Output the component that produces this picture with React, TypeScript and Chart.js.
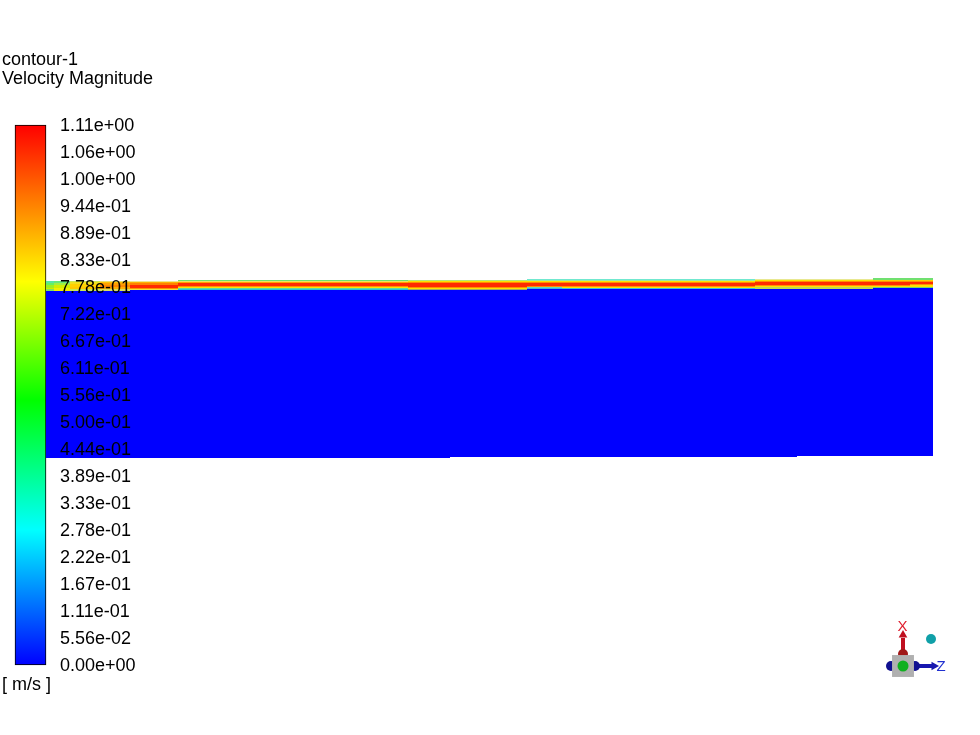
import React, { useEffect, useRef } from "react";
import { Chart, registerables } from "chart.js";

Chart.register(...registerables);

const titleLines = ["contour-1", "Velocity Magnitude"];
const tickLabels = [
  "0.00e+00", "5.56e-02", "1.11e-01", "1.67e-01", "2.22e-01", "2.78e-01", "3.33e-01", "3.89e-01",
  "4.44e-01", "5.00e-01", "5.56e-01", "6.11e-01", "6.67e-01", "7.22e-01", "7.78e-01", "8.33e-01",
  "8.89e-01", "9.44e-01", "1.00e+00", "1.06e+00", "1.11e+00",
];
const tickStep = 1.11 / 20;
const tickValues = tickLabels.map((_, i) => i * tickStep);
const rampStops = [0, 0.25, 0.49, 0.71, 1];
const rampColors = ["#0000ff", "#00ffff", "#00ff00", "#ffff00", "#ff0000"];

// main body of the domain: x edges, then top/bottom per column
const bodyEdges = [46, 450, 527, 797, 873, 933];
const bodyTops = [290, 290, 289, 289, 288];
const bodyBottoms = [458, 457, 457, 456, 456];
const bodyColor = "#0000ff";

// thin boundary layer above the body
const stripEdges = [46, 54, 70, 100, 130, 178, 408, 527, 562, 755, 873, 910, 933];
const stripBottoms = [291, 291, 291, 291, 290, 290, 290, 289, 289, 289, 288, 288];
const stripTops = [
  [281, 283, 285, 288, 289],
  [281, 283, 285, 288],
  [281, 282, 284, 287, 289],
  [281, 282, 283, 285, 287, 289],
  [281, 282, 283, 285, 288, 289],
  [280, 281, 282, 283, 286, 287, 288, 289],
  [280, 281, 282, 283, 287, 288, 289],
  [279, 280, 281, 282, 283, 286, 287, 288],
  [279, 280, 281, 282, 283, 286, 287, 288],
  [279, 280, 281, 282, 285, 286, 287],
  [278, 280, 281, 282, 285, 286, 287],
  [278, 280, 281, 282, 284, 285, 287],
];
const stripColors = [
  ["#55e8a0", "#66f060", "#9bf020", "#c8f000", "#80e060"],
  ["#66e878", "#a0f040", "#d0f000", "#f0f000"],
  ["#c8e858", "#f0e020", "#ffd000", "#ffc800", "#c8e858"],
  ["#e8e070", "#ffc000", "#ffa000", "#ff8800", "#ffb000", "#d8e060"],
  ["#f0e890", "#ffb000", "#ff8000", "#ff2a00", "#ff9000", "#f0e040"],
  ["#70e070", "#f0e060", "#ffa000", "#ff2a00", "#ff9000", "#ffe000", "#60d8a0", "#30c0d0"],
  ["#b8e878", "#ffe000", "#ff9000", "#ff2a00", "#ff9000", "#ffe000", "#a8a860"],
  ["#70e8d0", "#a0e8a0", "#ffe000", "#ff9000", "#ff2a00", "#ff9000", "#60d8c0", "#40b0e0"],
  ["#70e8d0", "#a0e8a0", "#ffe000", "#ff9000", "#ff2a00", "#ff9000", "#ffe000", "#40c0d0"],
  ["#e8e890", "#ffe000", "#ff9000", "#ff2a00", "#ff9000", "#ffe000", "#c0d850"],
  ["#70e070", "#ffd000", "#ff9000", "#ff2a00", "#ff9000", "#ffe000", "#70d870"],
  ["#70e070", "#ffd000", "#ff9000", "#ff2a00", "#ff9000", "#ffe000", "#70d870"],
];

// orientation triad
const triadAxisX = [{ x: 903, y: 655 }, { x: 903, y: 638 }];
const triadAxisZ = [{ x: 914, y: 666 }, { x: 932, y: 666 }];
const triadPoints = [
  { x: 931, y: 639, r: 5, style: "circle", color: "#10a0a8", rot: 0 },
  { x: 903, y: 635, r: 5, style: "triangle", color: "#c01020", rot: 0 },
  { x: 934, y: 666, r: 5, style: "triangle", color: "#1818b0", rot: 90 },
  { x: 903, y: 654, r: 5, style: "circle", color: "#a01818", rot: 0 },
  { x: 903, y: 678, r: 5, style: "circle", color: "#a01818", rot: 0 },
  { x: 891, y: 666, r: 5, style: "circle", color: "#101090", rot: 0 },
  { x: 915, y: 666, r: 5, style: "circle", color: "#101090", rot: 0 },
  { x: 903, y: 666, r: 15.5, style: "rect", color: "#b0b0b0", rot: 0 },
  { x: 903, y: 666, r: 5.5, style: "circle", color: "#10b020", rot: 0 },
];
const freeLabels = [
  { x: 902.5, y: 627, text: "X", color: "#e02030", size: 15, align: "center" },
  { x: 941, y: 667, text: "Z", color: "#2030d0", size: 15, align: "center" },
  { x: 2, y: 685, text: "[ m/s ]", color: "#000000", size: 18, align: "left" },
];

const FONT = "'Liberation Sans', Arial, sans-serif";
const TICK_TEXT_X = 60;

function rect(x0: number, x1: number, top: number, bottom: number, color: string) {
  return {
    type: "line",
    data: [{ x: x0, y: top }, { x: x1, y: top }],
    fill: { value: bottom },
    backgroundColor: color,
    borderWidth: 0,
    pointRadius: 0,
    xAxisID: "x",
    yAxisID: "y",
  };
}

function buildDatasets() {
  const paint: any[] = [];
  paint.push({
    type: "bar",
    data: [{ x: 30.5, y: [0, 1.11] }],
    barThickness: 31,
    borderWidth: 1,
    borderColor: "#000000",
    borderSkipped: false,
    clip: false,
    backgroundColor: (ctx: any) => {
      const { chart } = ctx;
      const s = chart.scales.y1;
      if (!chart.chartArea || !s) return rampColors[0];
      const y0 = s.getPixelForValue(0);
      const y1 = s.getPixelForValue(1.11);
      if (!Number.isFinite(y0) || !Number.isFinite(y1)) return rampColors[0];
      const g = chart.ctx.createLinearGradient(0, y0, 0, y1);
      rampStops.forEach((p, i) => g.addColorStop(p, rampColors[i]));
      return g;
    },
    xAxisID: "x",
    yAxisID: "y1",
  });
  bodyTops.forEach((t, i) => {
    paint.push(rect(bodyEdges[i], bodyEdges[i + 1], t, bodyBottoms[i], bodyColor));
  });
  stripTops.forEach((tops, i) => {
    tops.forEach((t, j) => {
      const bottom = j + 1 < tops.length ? tops[j + 1] : stripBottoms[i];
      paint.push(rect(stripEdges[i], stripEdges[i + 1], t, bottom, stripColors[i][j]));
    });
  });
  paint.push({
    type: "line", data: triadAxisX, borderColor: "#c01020", borderWidth: 4, pointRadius: 0,
    clip: false, xAxisID: "x", yAxisID: "y",
  });
  paint.push({
    type: "line", data: triadAxisZ, borderColor: "#1818b0", borderWidth: 4, pointRadius: 0,
    clip: false, xAxisID: "x", yAxisID: "y",
  });
  triadPoints.forEach((p) => {
    paint.push({
      type: "line",
      data: [{ x: p.x, y: p.y }],
      showLine: false,
      pointStyle: p.style,
      pointRadius: p.r,
      pointRotation: p.rot,
      pointBackgroundColor: p.color,
      pointBorderColor: p.color,
      pointBorderWidth: 0,
      clip: false,
      xAxisID: "x",
      yAxisID: "y",
    });
  });
  return paint.map((d, i) => ({ ...d, order: -i }));
}

const labelPlugin = {
  id: "freeLabels",
  afterDatasetsDraw(chart: any) {
    const { ctx, scales } = chart;
    ctx.save();
    ctx.textBaseline = "middle";
    freeLabels.forEach((l) => {
      ctx.font = `${l.size}px ${FONT}`;
      ctx.textAlign = l.align;
      ctx.fillStyle = l.color;
      ctx.fillText(l.text, scales.x.getPixelForValue(l.x), scales.y.getPixelForValue(l.y));
    });
    ctx.restore();
  },
};

export default function App() {
  const ref = useRef<HTMLCanvasElement | null>(null);
  useEffect(() => {
    document.body.style.margin = "0";
    const options: any = {
      responsive: false,
      animation: false,
      layout: { padding: { left: 2, right: 0, top: 50.5, bottom: 70 } },
      plugins: {
        legend: { display: false },
        tooltip: { enabled: false },
        title: {
          display: true,
          text: titleLines,
          align: "start",
          color: "#000000",
          font: { family: FONT, size: 18, weight: "normal", lineHeight: 19 / 18 },
          padding: { top: 0, bottom: 36.5 },
        },
      },
      scales: {
        x: { type: "linear", display: false, min: 2, max: 980, offset: false },
        y: { type: "linear", display: false, reverse: true, min: 125, max: 665 },
        y1: {
          type: "linear",
          position: "left",
          min: 0,
          max: 1.11,
          grid: { display: false, drawTicks: false },
          border: { display: false },
          afterFit: (axis: any) => {
            axis.width = 0;
          },
          afterBuildTicks: (axis: any) => {
            axis.ticks = tickValues.map((value) => ({ value }));
          },
          ticks: {
            z: 1,
            mirror: true,
            padding: 58,
            autoSkip: false,
            color: "#000000",
            font: { family: FONT, size: 18, lineHeight: 2 / 18 },
            callback: (_v: any, i: number) => ["", tickLabels[i]],
          },
        },
      },
    };
    const chart = new Chart(ref.current as HTMLCanvasElement, {
      type: "bar",
      data: { datasets: buildDatasets() as any },
      plugins: [labelPlugin],
      options,
    });
    // make the x scale read in canvas pixels, whatever area the layout gave it
    const area = chart.chartArea;
    (chart.options as any).scales.x.min = area.left;
    (chart.options as any).scales.x.max = area.right;
    (chart.options as any).scales.y1.ticks.padding = TICK_TEXT_X - area.left;
    chart.update();
    return () => chart.destroy();
  }, []);
  return <canvas ref={ref} width={980} height={735} style={{ display: "block" }} />;
}
